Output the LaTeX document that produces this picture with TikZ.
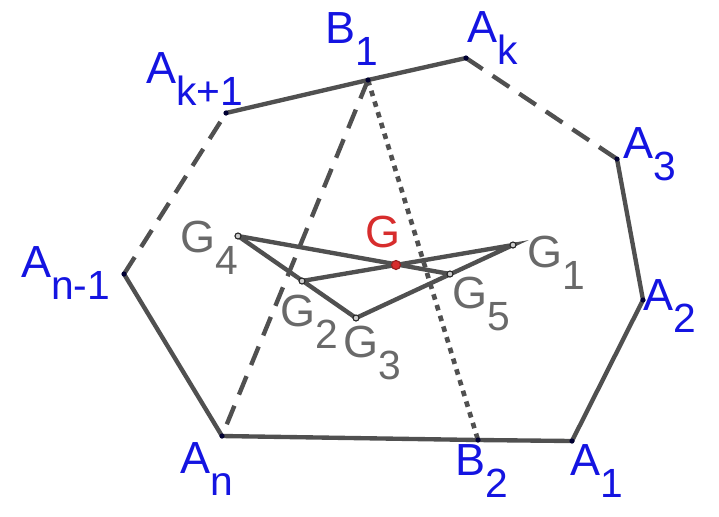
\documentclass[tikz,border=0pt]{standalone}
\usepackage{fontspec}
\setmainfont{Liberation Sans}
\usepackage{tikz}
\usetikzlibrary{positioning}
\definecolor{ptblue}{RGB}{20,20,225}
\definecolor{edgegray}{RGB}{80,80,80}
\definecolor{lblgray}{RGB}{105,105,105}
\definecolor{gred}{RGB}{215,45,45}
\newcommand\sbs[1]{\raisebox{-0.55cm}{\fontsize{29}{29}\selectfont #1}}
\tikzset{
	side/.style={edgegray, line width=3.1pt},
	sideDashed/.style={edgegray, line width=3.1pt, dash pattern=on 0.5cm off 0.3cm},
	sideDotted/.style={edgegray, line width=3.3pt, dash pattern=on 0.14cm off 0.14cm},
	vlabel/.style={ptblue, anchor=base west, inner sep=0pt, font=\fontsize{32}{32}\selectfont},
	glabel/.style={lblgray, anchor=base west, inner sep=0pt, font=\fontsize{32}{32}\selectfont},
	vdot/.style={fill=black!80!blue},
	gdot/.style={draw=black!85, fill=gray!40, line width=0.8pt}
}

\begin{document}
\begin{tikzpicture}[x=0.025cm, y=-0.025cm]
\useasboundingbox (0,0) rectangle (719,516);
	\coordinate (ak) at (466,58);
	\coordinate (b1) at (368,80);
	\coordinate (ak1) at (226,113);
\coordinate (a3) at (617,159);
\coordinate (a2) at (643,300);
\coordinate (a1) at (572,441);
\coordinate (b2) at (478,440);
\coordinate (an) at (222,436);
\coordinate (an1) at (124,274);
% centroids
\coordinate (g4) at (238,236);
\coordinate (g1) at (513,245);
\coordinate (g2) at (302,281);
\coordinate (g5) at (450,274);
\coordinate (g3) at (356,318);
\coordinate (g) at (396,265);
% polygon
\draw [side] (ak1) -- (b1) -- (ak);
\draw [sideDashed] (ak) -- (a3);
\draw [side] (a3) -- (a2) -- (a1) -- (b2) -- (an) -- (an1);
\draw [sideDashed] (an1) -- (ak1);
\draw [sideDashed] (b1) -- (an);
\draw [sideDotted] (b1) -- (b2);
% inner segments
\draw [side] (g4) -- (g5);
\draw [side] (g4) -- (g3) -- (g1) -- (g2);
\foreach \p in {ak,b1,ak1,a3,a2,a1,b2,an,an1} \fill [vdot] (\p) circle (2.6);
\foreach \p in {g1,g2,g3,g4,g5} \draw [gdot] (\p) circle (3);
\draw [fill=gred, draw=gred!70!black, line width=0.8pt] (g) circle (4.5);
% labels
\node [vlabel] (lb1) at (325,43) {B\sbs{1}};
\node [vlabel] (lak) at (467,42) {A\sbs{k}};
\node [vlabel] (lak1) at (146,83) {A\sbs{k+1}};
\node [vlabel] (la3) at (623,158) {A\sbs{3}};
\node [vlabel] (la2) at (643,310) {A\sbs{2}};
\node [vlabel] (la1) at (570,475) {A\sbs{1}};
\node [vlabel] (lb2) at (455,475) {B\sbs{2}};
\node [vlabel] (lan) at (180,473) {A\sbs{n}};
\node [vlabel] (lan1) at (21,277) {A\sbs{n-1}};
\node [glabel] (lg4) at (180,252) {G\sbs{4}};
\node [glabel] (lg1) at (527,267) {G\sbs{1}};
\node [glabel] (lg2) at (280,326) {G\sbs{2}};
\node [glabel] (lg5) at (452,308) {G\sbs{5}};
\node [glabel] (lg3) at (343,357) {G\sbs{3}};
\node [glabel, gred] (lg) at (365,247) {G};
\end{tikzpicture}
\end{document}
